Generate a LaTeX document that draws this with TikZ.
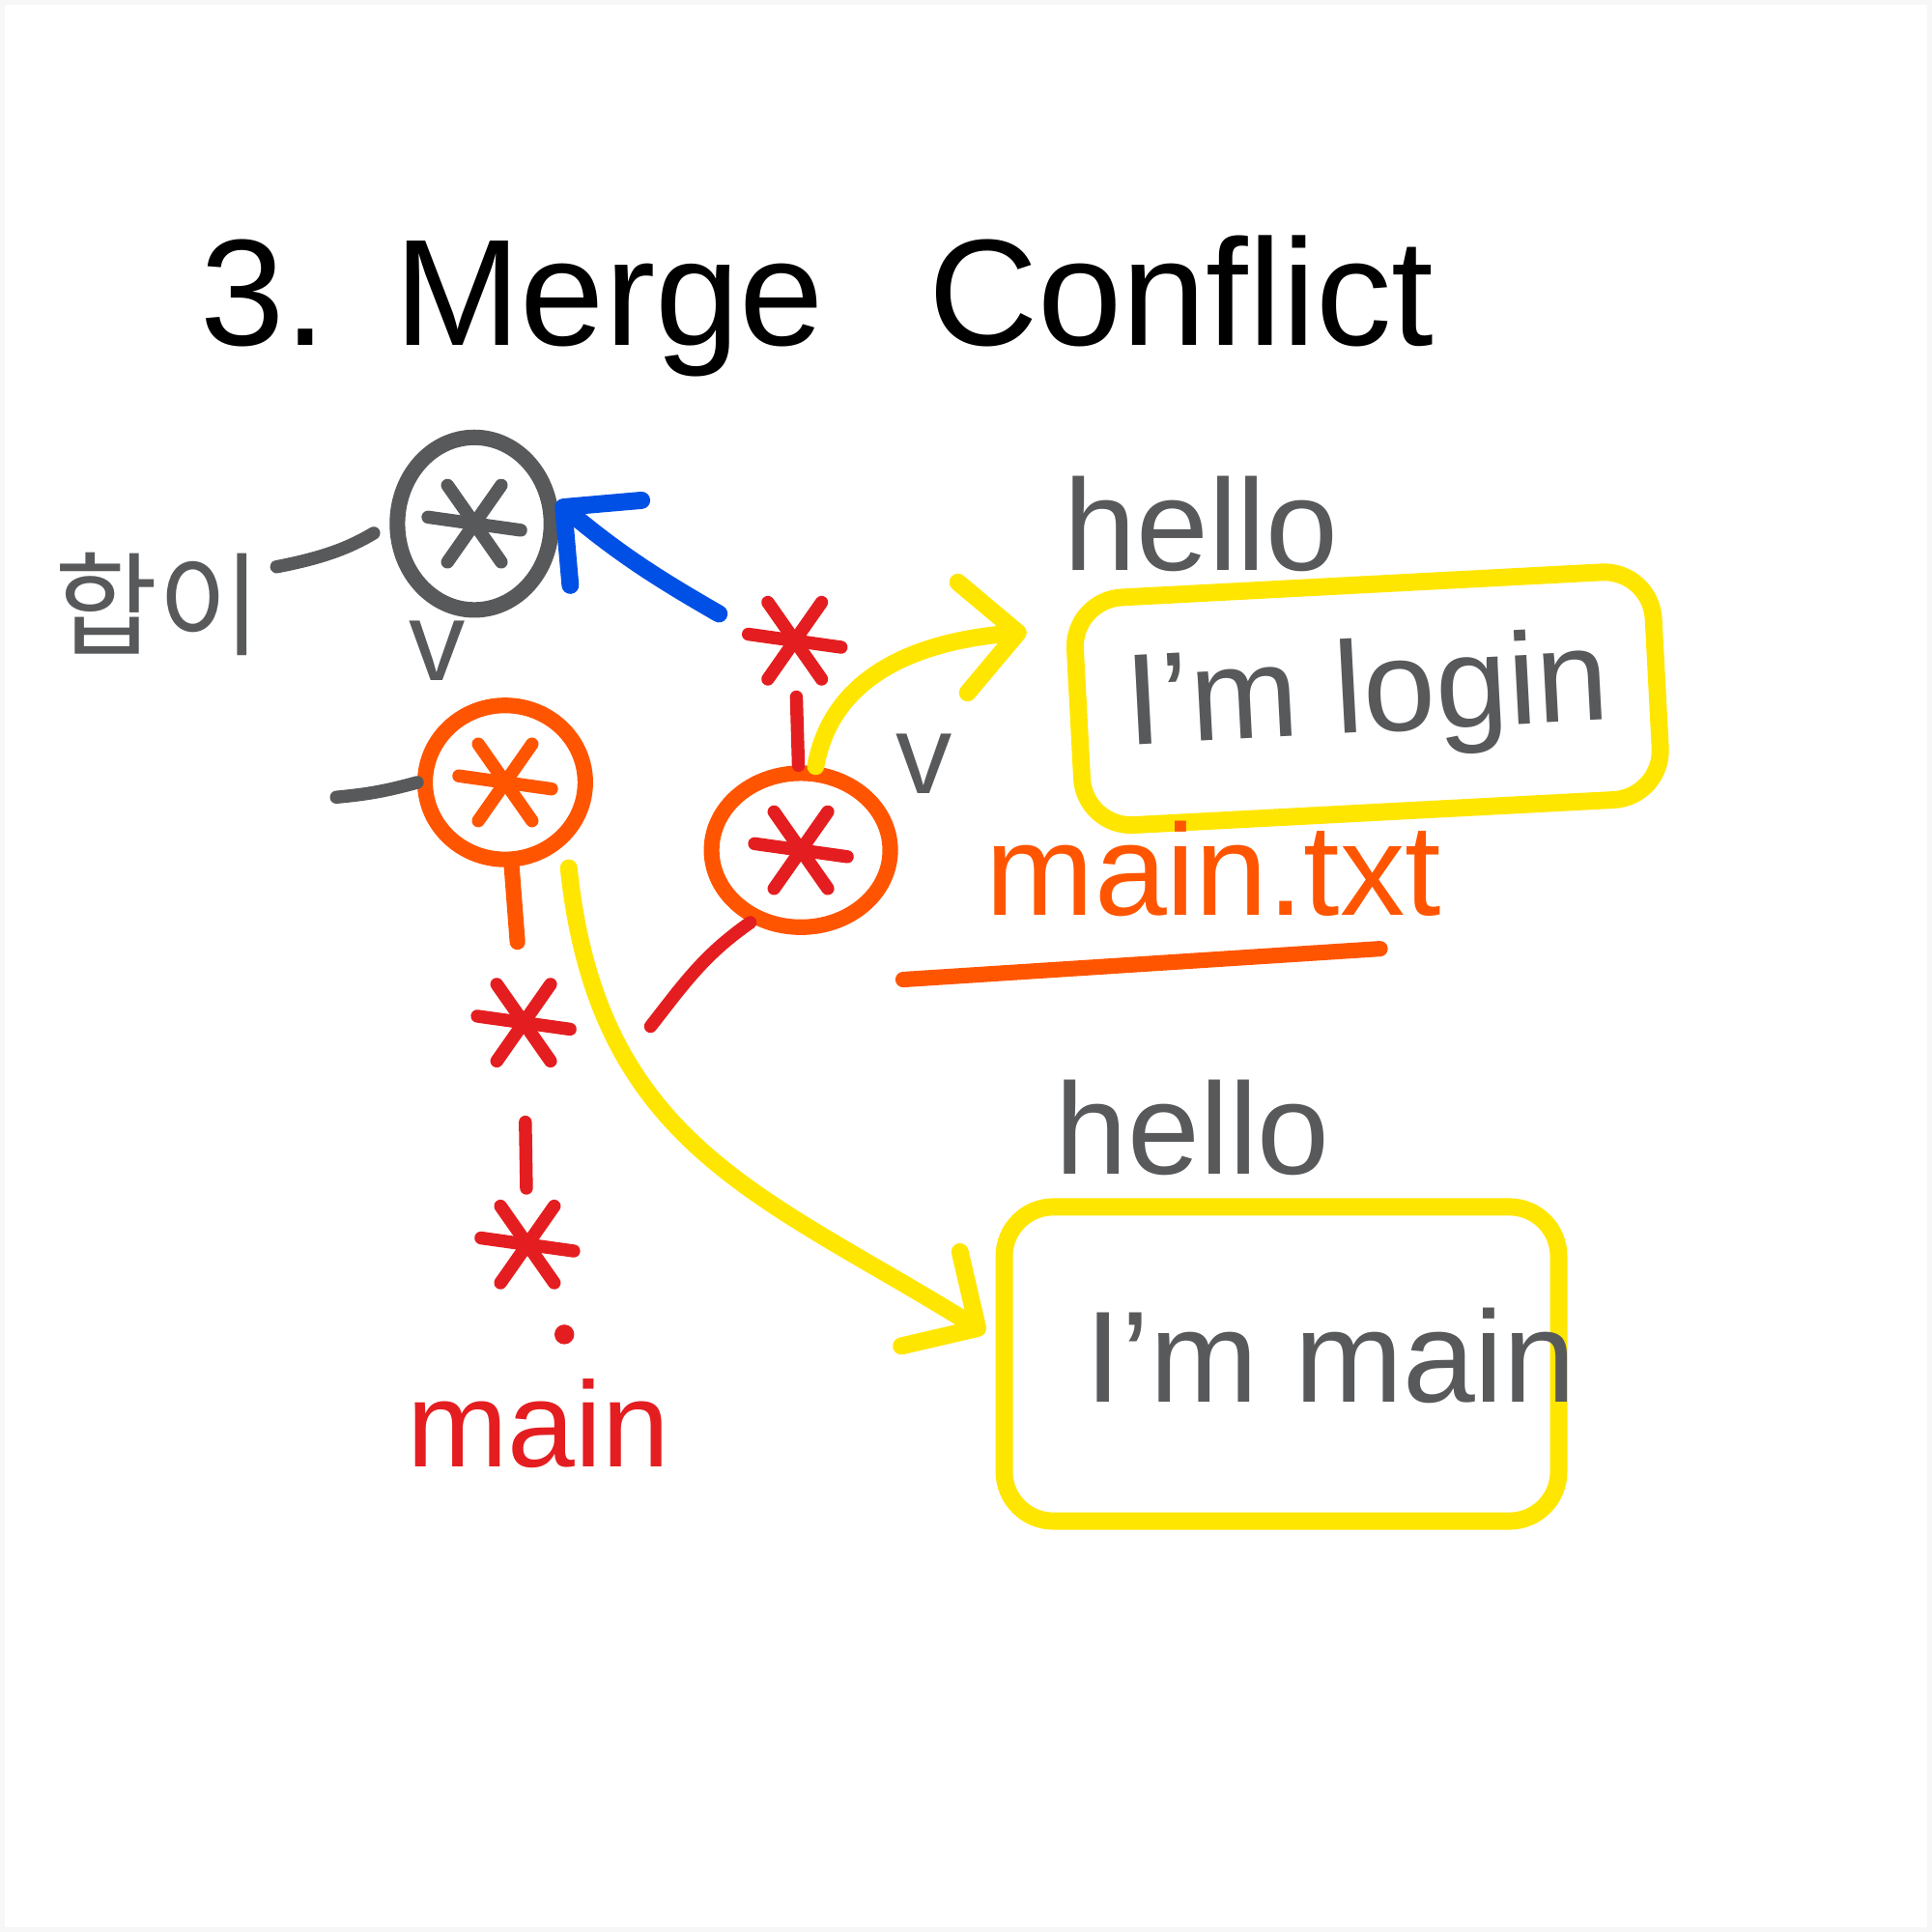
\documentclass[tikz,border=0pt]{standalone}
\usepackage{fontspec}
\setmainfont{Liberation Sans}
\newfontfamily\kofont{Noto Sans CJK KR}
\usetikzlibrary{arrows.meta,shapes.geometric}
\definecolor{pengray}{HTML}{58595B}
\definecolor{penred}{HTML}{E41E20}
\definecolor{penorange}{HTML}{FF5500}
\definecolor{penyellow}{HTML}{FFE600}
\definecolor{penblue}{HTML}{0050E6}
\tikzset{
 commit/.style={circle,inner sep=0pt,minimum size=9mm,path picture={
  \foreach \a in {-8,55,125} \draw[#1,line width=3pt,line cap=round]
   ([shift={(\a:3.8mm)}]path picture bounding box.center) -- ([shift={({\a+180}:3.8mm)}]path picture bounding box.center);}},
 ring/.style={ellipse,draw=#1,line width=3.6pt},
 pen/.style={draw=#1,line width=3pt,line cap=round},
 hand/.style={text=#1,font=\fontsize{30}{30}\selectfont,inner sep=1pt},
 memo/.style={draw=penyellow,line width=4pt,rounded corners=4mm},
}
\begin{document}
\begin{tikzpicture}[>={Straight Barb[length=4.5mm,width=9mm,round]}]
 \fill[black!3] (0,0) rectangle (15.68,-15.68);
 \fill[white] (.04,-.04) rectangle (15.64,-15.64);
 \useasboundingbox (0,0) rectangle (15.68,-15.68);
 \node[anchor=base west,font=\fontsize{35}{35}\selectfont] (title) at (1.5,-2.8) {3.\hspace{.55cm}Merge\hspace{.85cm}Conflict};
 % commits
 \node[commit=pengray,ring=pengray,minimum width=12.5mm,minimum height=14mm] (base) at (3.85,-4.25) {};
 \node[commit=penorange,ring=penorange,minimum width=13mm,minimum height=12.5mm] (mainTip) at (4.1,-6.35) {};
 \node[commit=penred,ring=penorange,minimum width=14.5mm,minimum height=12.5mm] (loginTip) at (6.5,-6.9) {};
 \node[commit=penred] (loginTop) at (6.45,-5.2) {};
 \node[commit=penred] (mainMid) at (4.25,-8.3) {};
 \node[commit=penred] (mainLow) at (4.28,-10.1) {};
 \node[circle,fill=penred,inner sep=0pt,minimum size=1.6mm] (mainDot) at (4.58,-10.83) {};
 \node[hand=penred,font=\fontsize{28}{28}\selectfont] (mainLbl) at (4.37,-11.55) {main};
 \node[text=pengray,font=\kofont\fontsize{26}{26}\selectfont] (merge) at (1.28,-4.9) {합이};
 \node[hand=pengray,font=\fontsize{26}{26}\selectfont] (v1) at (3.55,-5.28) {v};
 \node[hand=pengray,font=\fontsize{26}{26}\selectfont] (v2) at (7.5,-6.2) {v};
 \coordinate (feed) at (2.73,-6.47);
 \coordinate (forkEnd) at (5.28,-8.33);
 % files
 \node[hand=pengray] (hello1) at (9.75,-4.25) {hello};
 \node[hand=pengray,memo,minimum width=4.7cm,minimum height=1.85cm,rotate=3] (login) at (11.1,-5.67) {I'm login};
 \node[hand=penorange] (mainTxt) at (9.85,-7.05) {main.txt};
 \draw[pen=penorange,line width=3.6pt] ([shift={(-2.52,-.9)}]mainTxt.center) -- ([shift={(1.35,-.65)}]mainTxt.center);
 \node[hand=pengray] (hello2) at (9.68,-9.15) {hello};
 \node[memo,minimum width=4.5cm,minimum height=2.55cm] (mainBox) at (10.4,-11.07) {};
 \node[hand=pengray] (mainMsg) at (10.8,-11.0) {I'm main};
 % edges
 \draw[pen=pengray,shorten >=1.5mm] ([yshift=3mm]merge.east) to[bend right=10] (base.west);
 \draw[pen=pengray] (feed) to[bend right=5] (mainTip.west);
 \draw[pen=penblue,line width=4pt,->,shorten <=2mm] (loginTop.165) to[out=150,in=-40] (base.15);
 \draw[pen=penred] (loginTop) -- (loginTip);
 \draw[pen=penred] (loginTip.235) to[out=215,in=52] (forkEnd);
 \draw[pen=penorange,line width=3.6pt,shorten >=2mm] (mainTip) -- (mainMid);
 \draw[pen=penred,shorten <=3.5mm] (mainMid) -- (mainLow);
 \draw[pen=penyellow,line width=4pt,->,shorten >=3mm] (loginTip.80) to[out=80,in=185] ([yshift=-3mm]login.north west);
 \draw[pen=penyellow,line width=4pt,->,shorten <=2mm,shorten >=1mm] (mainTip.-45) .. controls (4.85,-9.3) and (6.2,-9.7) .. ([yshift=2mm]mainBox.west);
\end{tikzpicture}
\end{document}
